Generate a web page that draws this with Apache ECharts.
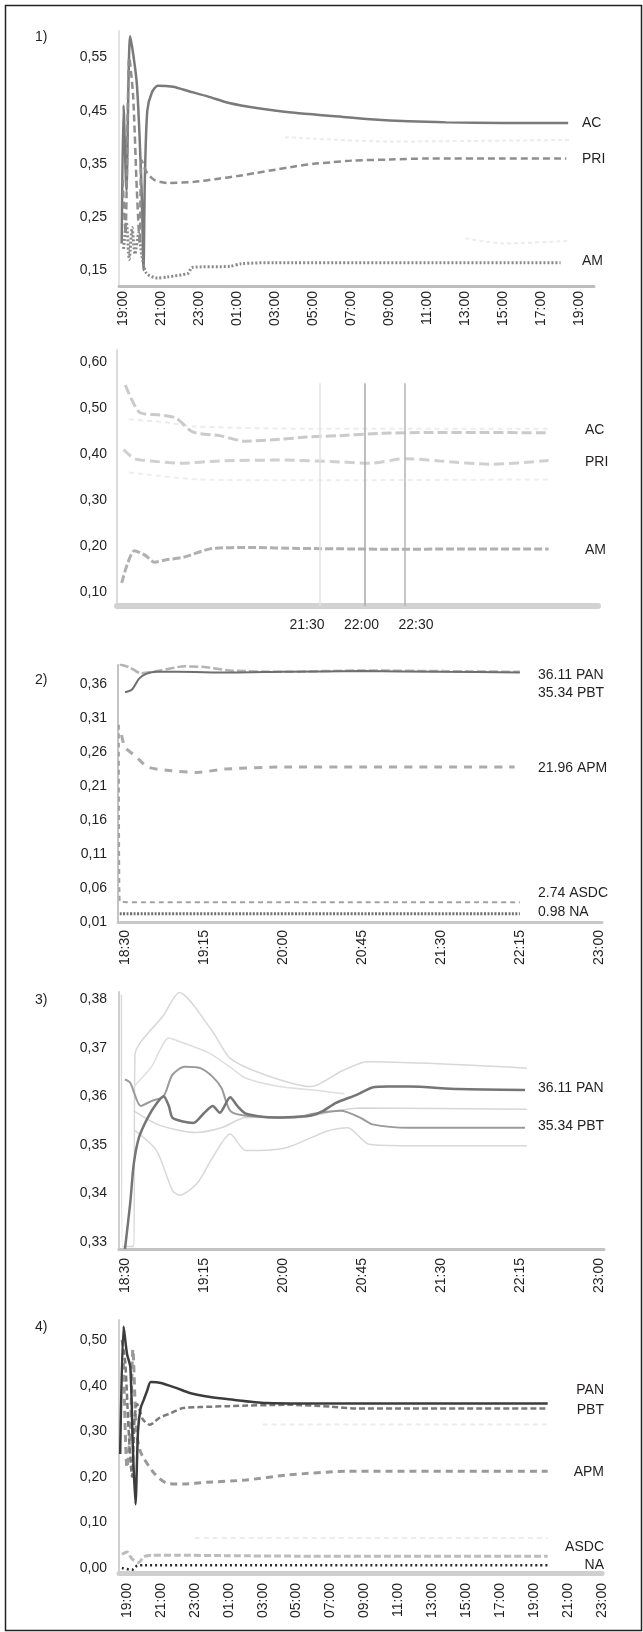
<!DOCTYPE html>
<html>
<head>
<meta charset="utf-8">
<script src="https://cdn.jsdelivr.net/npm/echarts@6/dist/echarts.min.js"></script>
<style>
html,body{margin:0;padding:0;background:#fff;}
#c{width:643px;height:1632px;}
</style>
</head>
<body>
<div id="c"></div>
<script>
// ---------- Panel 1 (hours after 19:00) ----------
const p1YTicks = [0.15, 0.25, 0.35, 0.45, 0.55];
const p1XTicks = [0, 2, 4, 6, 8, 10, 12, 14, 16, 18, 20, 22, 24];
const p1XLabels = ['19:00','21:00','23:00','01:00','03:00','05:00','07:00','09:00','11:00','13:00','15:00','17:00','19:00'];
const p1AC = [[-0.1,0.20],[0.0,0.46],[0.15,0.30],[0.35,0.59],[0.7,0.50],[0.95,0.30],[1.05,0.15],[1.12,0.32],[1.25,0.45],[1.5,0.485],[1.8,0.497],[2.6,0.495],[3.4,0.487],[4.5,0.476],[5.5,0.465],[7,0.455],[9,0.446],[11,0.44],[13,0.434],[15,0.43],[17,0.428],[20,0.427],[23.4,0.427]];
const p1PRI = [[-0.05,0.32],[0.1,0.22],[0.3,0.55],[0.5,0.48],[0.7,0.30],[0.85,0.20],[0.95,0.357],[1.2,0.335],[1.6,0.32],[2.3,0.314],[3.7,0.316],[5,0.322],[6,0.327],[7,0.333],[8,0.339],[9,0.345],[10,0.35],[11,0.353],[12,0.356],[14,0.358],[16,0.36],[20,0.36],[23.3,0.36]];
const p1AM = [[0,0.19],[0.15,0.24],[0.3,0.17],[0.45,0.23],[0.6,0.18],[0.8,0.22],[0.95,0.18],[1.2,0.144],[1.8,0.135],[2.3,0.137],[3.4,0.144],[3.6,0.155],[5.6,0.157],[6.2,0.162],[8,0.164],[23,0.164]];
const p1Faint1 = [[8.5,0.40],[14,0.392],[23.5,0.395]];
const p1Faint2 = [[18,0.21],[20,0.2],[23.5,0.205]];

// ---------- Panel 1b (minutes relative to 21:30) ----------
const p2YTicks = [0.10, 0.20, 0.30, 0.40, 0.50, 0.60];
const p2XTicks = [0, 30, 60];
const p2XLabels = ['21:30', '22:00', '22:30'];
const p2AC = [[-100,0.55],[-92,0.49],[-81,0.485],[-72,0.478],[-63,0.448],[-48,0.44],[-34,0.428],[-15,0.432],[0,0.437],[18,0.44],[40,0.445],[68,0.447],[95,0.447],[133,0.446]];
const p2PRI = [[-101,0.41],[-95,0.39],[-86,0.385],[-70,0.38],[-48,0.385],[-15,0.387],[18,0.383],[35,0.38],[54,0.39],[73,0.385],[101,0.378],[133,0.386]];
const p2AM = [[-102,0.12],[-99,0.16],[-95,0.19],[-89,0.18],[-84,0.165],[-78,0.17],[-68,0.176],[-52,0.195],[-31,0.197],[-4,0.195],[24,0.194],[51,0.193],[79,0.194],[133,0.194]];
const p2FaintUp = [[-98,0.475],[-80,0.47],[-62,0.46],[0,0.455],[133,0.455]];
const p2FaintLow = [[-98,0.36],[-60,0.345],[0,0.343],[133,0.345]];
const p2VLines = [7, 32, 54];
const p2VTop = 0.554;

// ---------- Panel 2 (minutes after 18:30) ----------
const p3YTicks = [0.01, 0.06, 0.11, 0.16, 0.21, 0.26, 0.31, 0.36];
const p3XTicks = [0, 45, 90, 135, 180, 225, 270];
const p3XLabels = ['18:30','19:15','20:00','20:45','21:30','22:15','23:00'];
const p3PAN = [[0,0.348],[4,0.352],[8,0.368],[12,0.375],[18,0.378],[30,0.378],[60,0.377],[90,0.378],[135,0.379],[180,0.378],[225,0.377]];
const p3PBT = [[-3,0.389],[3,0.384],[9,0.376],[20,0.38],[34,0.386],[45,0.385],[60,0.38],[90,0.378],[135,0.38],[180,0.379],[225,0.378]];
const p3APM = [[-2,0.285],[0,0.267],[6,0.254],[13,0.238],[25,0.233],[41,0.23],[57,0.235],[92,0.238],[135,0.238],[180,0.238],[222,0.238]];
const p3ASDC = [[-3.5,0.30],[-3,0.04],[10,0.039],[100,0.039],[225,0.039]];
const p3NA = [[-3,0.022],[100,0.022],[225,0.022]];

// ---------- Panel 3 (minutes after 18:30) ----------
const p4YTicks = [0.33, 0.34, 0.35, 0.36, 0.37, 0.38];
const p4XTicks = [0, 45, 90, 135, 180, 225, 270];
const p4XLabels = ['18:30','19:15','20:00','20:45','21:30','22:15','23:00'];
const p4PAN = [[0,0.3285],[3,0.338],[5,0.346],[8,0.3515],[13,0.3556],[18,0.3585],[22,0.36],[25,0.358],[27,0.3556],[33,0.3548],[39,0.3545],[45,0.3565],[50,0.358],[54,0.3566],[60,0.3598],[64,0.358],[69,0.3564],[80,0.3557],[88,0.3556],[100,0.3558],[106,0.356],[113,0.357],[120,0.3586],[132,0.3603],[141,0.3618],[150,0.362],[162,0.362],[190,0.3615],[228,0.3613]];
const p4PBT = [[0,0.3635],[3,0.3628],[9,0.358],[15,0.359],[22,0.36],[27,0.3644],[34,0.3661],[43,0.3658],[50,0.364],[55,0.3617],[60,0.357],[69,0.356],[97,0.3556],[106,0.3563],[123,0.357],[134,0.3556],[141,0.3542],[162,0.3535],[228,0.3535]];
const p4Up1 = [[-2,0.381],[-1.5,0.329],[5,0.329],[5.7,0.3685],[22,0.3767],[31,0.3814],[50,0.3733],[60,0.3678],[80,0.3644],[106,0.362],[123,0.3651],[134,0.3668],[139,0.3671],[229,0.3658]];
const p4Up2 = [[5,0.362],[15,0.366],[25,0.372],[31,0.3713],[48,0.3689],[60,0.366],[69,0.3637],[88,0.362],[110,0.3612],[125,0.3605]];
const p4Low1 = [[5,0.357],[20,0.354],[40,0.3525],[55,0.3535],[69,0.3556],[100,0.3556],[120,0.357],[134,0.3576],[229,0.3573]];
const p4Low2 = [[5.7,0.3529],[18,0.3488],[27,0.3406],[31,0.3396],[41,0.342],[50,0.3474],[60,0.3522],[69,0.3488],[92,0.3494],[115,0.3528],[127,0.3535],[139,0.3501],[162,0.3498],[229,0.3498]];

// ---------- Panel 4 (hours after 19:00) ----------
const p5YTicks = [0.00, 0.10, 0.20, 0.30, 0.40, 0.50];
const p5XTicks = [0, 2, 4, 6, 8, 10, 12, 14, 16, 18, 20, 22, 24, 26, 28];
const p5XLabels = ['19:00','21:00','23:00','01:00','03:00','05:00','07:00','09:00','11:00','13:00','15:00','17:00','19:00','21:00','23:00'];
const p5PAN = [[-0.4,0.25],[-0.2,0.53],[0,0.47],[0.2,0.44],[0.35,0.26],[0.5,0.14],[0.65,0.30],[0.8,0.35],[1.0,0.37],[1.2,0.39],[1.4,0.408],[2.0,0.406],[2.9,0.395],[3.7,0.384],[4.9,0.375],[6,0.37],[8.2,0.362],[11,0.361],[24.8,0.361]];
const p5PBT = [[-0.3,0.50],[-0.1,0.45],[0.1,0.30],[0.3,0.20],[0.45,0.33],[0.6,0.36],[0.8,0.34],[0.95,0.325],[1.35,0.314],[1.9,0.329],[2.6,0.34],[3.3,0.351],[4.3,0.353],[6,0.355],[9.5,0.358],[12,0.354],[13.5,0.35],[24.8,0.35]];
const p5APM = [[-0.2,0.45],[0,0.22],[0.2,0.30],[0.35,0.48],[0.55,0.30],[0.75,0.26],[0.95,0.243],[1.6,0.208],[2.35,0.186],[3.3,0.184],[4.7,0.188],[7,0.193],[9.5,0.204],[13,0.212],[24.8,0.212]];
const p5ASDC = [[-0.3,0.03],[0,0.035],[0.3,0.02],[0.7,0.012],[1,0.025],[1.5,0.028],[3,0.028],[6,0.027],[10,0.026],[24.8,0.026]];
const p5NA = [[-0.3,0.0],[0.3,-0.004],[0.6,0.005],[1,0.006],[24.8,0.006]];
const p5Faint1 = [[8,0.315],[24.8,0.315]];
const p5Faint2 = [[4,0.066],[24.8,0.066]];

// ---------- build ----------
const FONT = 'Liberation Sans, Arial, sans-serif';
const TXT = '#231f20';

const grids = [
  {left:119, top:31,   width:475, height:255},
  {left:117, top:350,  width:481, height:256},
  {left:118, top:665,  width:484, height:257},
  {left:119, top:992,  width:485, height:257},
  {left:119, top:1320, width:483, height:253}
];

function comma(v){ return v.toFixed(2).replace('.', ','); }
function pick(ticks, labels){
  return function(v){
    const k = ticks.findIndex(t => Math.abs(t - v) < 1e-6);
    return k >= 0 ? labels[k] : '';
  };
}
function xAx(i, min, max, ticks, labels, rotate, margin, lineColor, lineWidth){
  return {
    gridIndex:i, type:'value', min:min, max:max,
    axisLine:{show:true, onZero:false, lineStyle:{color:lineColor, width:lineWidth}},
    axisTick:{show:false}, splitLine:{show:false},
    axisLabel:{customValues:ticks, formatter:pick(ticks, labels), rotate:rotate, margin:margin,
      fontSize:14, color:TXT, fontFamily:FONT, hideOverlap:false}
  };
}
function yAx(i, min, max, ticks, margin, lineColor, lineWidth){
  return {
    gridIndex:i, type:'value', min:min, max:max,
    axisLine:{show:true, onZero:false, lineStyle:{color:lineColor, width:lineWidth}},
    axisTick:{show:false}, splitLine:{show:false},
    axisLabel:{customValues:ticks, formatter:comma, margin:margin,
      fontSize:14, color:TXT, fontFamily:FONT, hideOverlap:false}
  };
}
function ln(i, data, color, width, type, extra){
  return Object.assign({
    type:'line', xAxisIndex:i, yAxisIndex:i, data:data, symbol:'none', showSymbol:false,
    smooth:0.25, silent:true, animation:false,
    lineStyle:{color:color, width:width, type:type || 'solid', cap:'butt'}
  }, extra || {});
}

const xAxes = [
  xAx(0, -0.24, 24.76, p1XTicks, p1XLabels, 90, 5, '#bdbdbd', 3),
  xAx(1, -104.6, 160.2, p2XTicks, p2XLabels, 0, 12, '#d2d2d2', 6),
  xAx(2, -4, 271.8, p3XTicks, p3XLabels, 90, 8, '#c8c8c8', 3),
  xAx(3, -3.4, 273, p4XTicks, p4XLabels, 90, 9, '#c2c2c2', 3),
  xAx(4, -0.47, 28.0, p5XTicks, p5XLabels, 90, 10, '#cfcfcf', 5)
];
const yAxes = [
  yAx(0, 0.12, 0.60, p1YTicks, 12, '#e2e2e2', 2),
  yAx(1, 0.07, 0.626, p2YTicks, 10, '#dcdcdc', 2),
  yAx(2, 0.01, 0.388, p3YTicks, 11, '#c4c4c4', 2),
  yAx(3, 0.3285, 0.3815, p4YTicks, 12, '#cfcfcf', 2),
  yAx(4, -0.011, 0.544, p5YTicks, 12, '#d0d0d0', 2)
];

const vColors = ['#e2e2e2', '#a8a8a8', '#b4b4b4'];
const series = [
  // panel 1
  ln(0, p1Faint1, '#ececec', 2, [4,3]),
  ln(0, p1Faint2, '#ececec', 2, [4,3]),
  ln(0, p1AC, '#7a7a7a', 2.5, 'solid'),
  ln(0, p1PRI, '#8e8e8e', 2.5, [7,4]),
  ln(0, p1AM, '#8a8a8a', 3, [2,2]),
  // panel 1b
  ln(1, p2FaintUp, '#ececec', 2, [5,4]),
  ln(1, p2FaintLow, '#eeeeee', 2, [5,4]),
  ln(1, p2AC, '#cacaca', 3, [10,4]),
  ln(1, p2PRI, '#d0d0d0', 3, [10,5]),
  ln(1, p2AM, '#b0b0b0', 3, [8,3], {
    markLine:{symbol:'none', silent:true, animation:false, label:{show:false},
      data: p2VLines.map((m, k) => [
        {coord:[m, p2VTop], lineStyle:{color:vColors[k], width:1.5, type:'solid'}},
        {coord:[m, 0.07]}
      ])}
  }),
  // panel 2
  ln(2, p3PBT, '#b4b4b4', 2.5, [9,3]),
  ln(2, p3PAN, '#6e6e6e', 2, 'solid'),
  ln(2, p3APM, '#ababab', 3, [8,7]),
  ln(2, p3ASDC, '#a2a2a2', 2, [5,4]),
  ln(2, p3NA, '#707070', 3, [2,1.5]),
  // panel 3
  ln(3, p4Up1, '#d8d8d8', 1.5, 'solid'),
  ln(3, p4Up2, '#dedede', 1.5, 'solid'),
  ln(3, p4Low1, '#d6d6d6', 1.5, 'solid'),
  ln(3, p4Low2, '#d8d8d8', 1.5, 'solid'),
  ln(3, p4PBT, '#9a9a9a', 2, 'solid'),
  ln(3, p4PAN, '#757575', 2.5, 'solid'),
  // panel 4
  ln(4, p5Faint1, '#ececec', 2, [5,4]),
  ln(4, p5Faint2, '#ececec', 2, [5,4]),
  ln(4, p5ASDC, '#bcbcbc', 3, [7,3]),
  ln(4, p5NA, '#2a2a2a', 2.5, [2,3]),
  ln(4, p5APM, '#9a9a9a', 3, [7,5]),
  ln(4, p5PBT, '#7a7a7a', 2.5, [6,3]),
  ln(4, p5PAN, '#3c3c3c', 2.5, 'solid')
];

function txt(x, y, s, align){
  return {type:'text', silent:true, style:{x:x, y:y, text:s, fill:TXT,
    font:'14px ' + FONT, verticalAlign:'middle', align:align || 'left'}};
}
const graphics = [
  {type:'rect', silent:true, shape:{x:5.5, y:5.5, width:636, height:1625},
   style:{fill:'none', stroke:'#222', lineWidth:1.5}},
  txt(35, 37, '1)'), txt(35, 680, '2)'), txt(35, 1000, '3)'), txt(35, 1327, '4)'),
  txt(582, 123, 'AC'), txt(582, 159, 'PRI'), txt(582, 261, 'AM'),
  txt(585, 430, 'AC'), txt(585, 462, 'PRI'), txt(585, 550, 'AM'),
  txt(538, 675, '36.11 PAN'), txt(538, 693, '35.34 PBT'), txt(538, 768, '21.96 APM'),
  txt(538, 893, '2.74 ASDC'), txt(538, 912, '0.98 NA'),
  txt(538, 1088, '36.11 PAN'), txt(538, 1126, '35.34 PBT'),
  txt(604, 1390, 'PAN', 'right'), txt(604, 1410, 'PBT', 'right'), txt(604, 1472, 'APM', 'right'),
  txt(604, 1547, 'ASDC', 'right'), txt(604, 1565, 'NA', 'right')
];

const chart = echarts.init(document.getElementById('c'), null, {renderer:'canvas'});
chart.setOption({
  backgroundColor:'#ffffff',
  animation:false,
  grid:grids,
  xAxis:xAxes,
  yAxis:yAxes,
  series:series,
  graphic:graphics
});
</script>
</body>
</html>
